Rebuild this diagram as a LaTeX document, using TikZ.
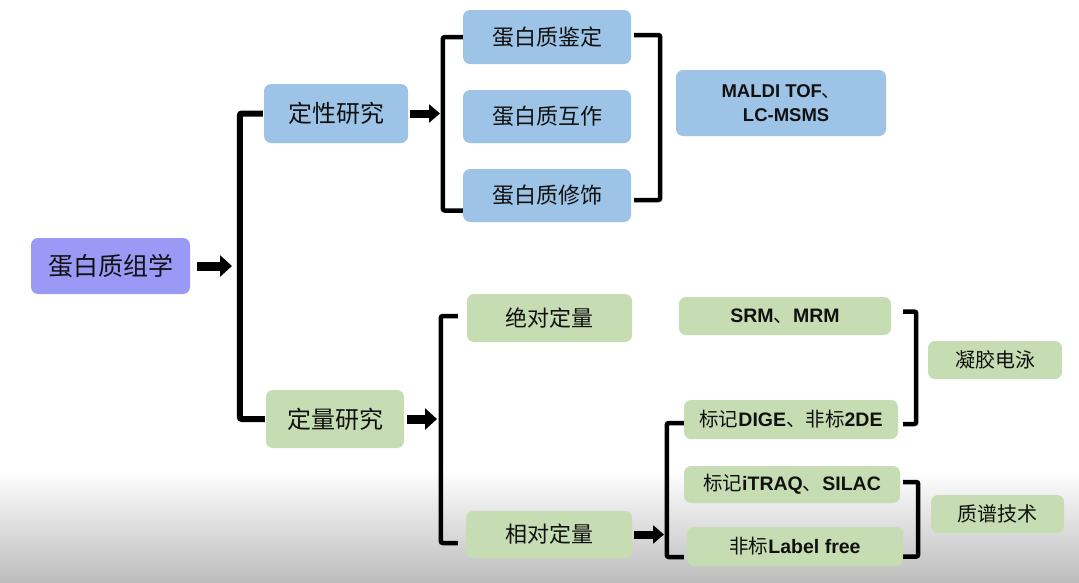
\documentclass[tikz,border=0pt]{standalone}
\usepackage{fontspec}
\setmainfont{Liberation Sans}
\newfontfamily\cjk{Noto Sans CJK SC}
\usetikzlibrary{arrows.meta}
\definecolor{lav}{HTML}{9A9AF6}
\definecolor{lblue}{HTML}{9DC3E6}
\definecolor{lgreen}{HTML}{C6DDB3}
\definecolor{ink}{HTML}{111111}
\newcommand{\zh}[1]{{\cjk\mdseries #1}}
\begin{document}
\begin{tikzpicture}[x=1pt,y=-1pt,
  box/.style={rounded corners=7pt, inner sep=0pt, align=center, text=ink},
  cn/.style={font=\cjk\fontsize{#1}{#1}\selectfont},
  lat/.style={font=\fontsize{#1}{24}\selectfont\bfseries},
  brk/.style={draw=black, line width=4.5pt, rounded corners=2pt},
  bigarrow/.style={draw=black, line width=9pt, -{Triangle[length=12pt,width=21pt]}},
  midarrow/.style={draw=black, line width=8pt, -{Triangle[length=11pt,width=18pt]}}]
\useasboundingbox (0,0) rectangle (1079,582);
\fill[white] (0,0) rectangle (1079,582);
\shade[top color=white, bottom color=black!26] (0,470) rectangle (1079,582);

% nodes
\node[box, cn=25, fill=lav, minimum width=159pt, minimum height=56pt] (root) at (110.5,266) {蛋白质组学};
\node[box, cn=24, fill=lblue, minimum width=144pt, minimum height=59pt] (qual) at (336,113.5) {定性研究};
\node[box, cn=22, fill=lblue, minimum width=168pt, minimum height=54pt] (p1) at (547,37) {蛋白质鉴定};
\node[box, cn=22, fill=lblue, minimum width=168pt, minimum height=53pt] (p2) at (547,116.5) {蛋白质互作};
\node[box, cn=22, fill=lblue, minimum width=168pt, minimum height=53pt] (p3) at (547,195.5) {蛋白质修饰};
\node[box, lat=18.5, fill=lblue, minimum width=210pt, minimum height=66pt] (maldi) at (781,103) {MALDI TOF\zh{、}\\\ \ LC-MSMS};

\node[box, cn=24, fill=lgreen, minimum width=138pt, minimum height=58pt] (quant) at (335,419) {定量研究};
\node[box, cn=22, fill=lgreen, minimum width=165pt, minimum height=48pt] (abs) at (549.5,318) {绝对定量};
\node[box, cn=22, fill=lgreen, minimum width=166pt, minimum height=47pt] (rel) at (549,534.5) {相对定量};
\node[box, lat=19.5, fill=lgreen, minimum width=212pt, minimum height=38pt] (srm) at (785,316) {SRM\zh{、}MRM};
\node[box, lat=19.5, fill=lgreen, minimum width=214pt, minimum height=39pt] (dige) at (791,419.5) {\zh{标记}DIGE\zh{、非标}2DE};
\node[box, lat=19.5, fill=lgreen, minimum width=216pt, minimum height=37pt] (itraq) at (792,484.5) {\zh{标记}iTRAQ\zh{、}SILAC};
\node[box, lat=19.5, fill=lgreen, minimum width=216pt, minimum height=39pt] (lf) at (795,546.5) {\zh{非标}Label free};
\node[box, cn=20, fill=lgreen, minimum width=134pt, minimum height=38pt] (gel) at (995,360) {凝胶电泳};
\node[box, cn=20, fill=lgreen, minimum width=133pt, minimum height=38pt] (ms) at (997.5,514) {质谱技术};

% junction points
\coordinate (j1) at (240,266);
\coordinate (j2) at (443,113.5);
\coordinate (j3) at (441,419);
\coordinate (j4) at (667,534.5);

% arrows
\draw[bigarrow, shorten <=7pt, shorten >=8pt] (root.east) -- (j1);
\draw[midarrow, shorten <=2pt, shorten >=3pt] (qual.east) -- (j2);
\draw[bigarrow, shorten <=3pt, shorten >=4pt] (quant.east) -- (j3);
\draw[midarrow, shorten <=2pt, shorten >=3pt] (rel.east) -- (j4);

% brackets
\draw[brk, line width=6pt, shorten <=1pt, shorten >=1pt] (qual.west) -- ++(-24,0) |- (quant.west);
\draw[brk] (p1.west) -- ++(-20,0) |- ([yshift=-15pt]p3.west);
\draw[brk, shorten <=3pt, shorten >=3pt] ([yshift=2pt]p1.east) -- ++(29,0) |- ([yshift=-4.5pt]p3.east);
\draw[brk, shorten <=9pt, shorten >=8pt] ([yshift=2pt]abs.west) -- ++(-26,0) |- ([yshift=-8.5pt]rel.west);
\draw[brk, shorten >=3pt] ([yshift=-3.5pt]dige.west) -- ++(-17,0) |- ([yshift=-10.5pt]lf.west);
\draw[brk, shorten <=12pt, shorten >=5pt] ([yshift=4.5pt]srm.east) -- ++(25,0) |- ([yshift=-4.5pt]dige.east);
\draw[brk, shorten <=3pt] ([yshift=2.5pt]itraq.east) -- ++(18,0) |- ([yshift=-10pt]lf.east);
\end{tikzpicture}
\end{document}
